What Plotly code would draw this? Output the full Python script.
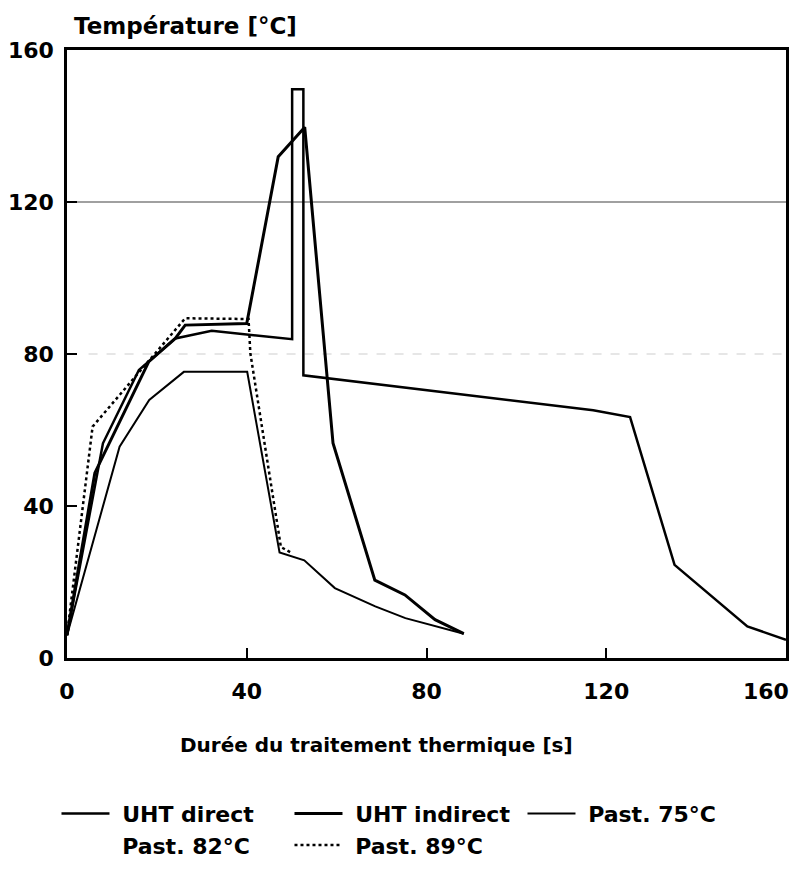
import plotly.graph_objects as go

# ---- data (time in s, temperature in °C) ----
uht_direct_x = [0, 8.0, 16.0, 24.1, 32.2, 40.8, 50.1, 50.1, 52.6, 52.6, 117.1, 125.3, 135.2, 151.4, 160]
uht_direct_y = [6, 56.5, 75.8, 84.1, 86.1, 85.0, 83.9, 149.7, 149.7, 74.4, 65.2, 63.4, 24.5, 8.3, 4.8]

uht_indirect_x = [0, 6.2, 18.2, 24.1, 26.3, 40.0, 47.0, 52.9, 59.2, 68.5, 75.2, 81.9, 88.3]
uht_indirect_y = [6, 48.7, 78.0, 84.1, 87.6, 88.0, 131.9, 139.7, 56.5, 20.5, 16.6, 10.1, 6.4]

past75_x = [0, 11.7, 18.3, 26.0, 40.1, 47.3, 52.8, 59.6, 68.6, 75.3, 88.3]
past75_y = [6, 55.6, 67.9, 75.3, 75.3, 27.8, 25.7, 18.4, 13.6, 10.5, 6.4]

past82_x = [None]   # curve not visible in the reference
past82_y = [None]

past89_x = [0, 5.7, 26.3, 40.4, 40.8, 47.6, 50.2]
past89_y = [6, 60.9, 89.4, 89.2, 80.2, 29.2, 27.5]

x_ticks = [0, 40, 80, 120, 160]
x_tick_labels = ["0", "40", "80", "120", "160"]
y_ticks = [0, 40, 80, 120, 160]
ref_line_dark = 120
ref_line_faint = 80

FONT = "DejaVu Sans"
PAD = "\u00a0"

fig = go.Figure()
fig.add_trace(go.Scatter(x=uht_direct_x, y=uht_direct_y, mode="lines", name=PAD + "UHT direct",
                         line=dict(color="black", width=2.5)))
fig.add_trace(go.Scatter(x=uht_indirect_x, y=uht_indirect_y, mode="lines", name=PAD + "UHT indirect",
                         line=dict(color="black", width=3)))
fig.add_trace(go.Scatter(x=past75_x, y=past75_y, mode="lines", name=PAD + "Past. 75°C",
                         line=dict(color="black", width=2)))
fig.add_trace(go.Scatter(x=past82_x, y=past82_y, mode="lines", name=PAD + "Past. 82°C",
                         line=dict(color="rgba(0,0,0,0)", width=2)))
fig.add_trace(go.Scatter(x=past89_x, y=past89_y, mode="lines", name=PAD + "Past. 89°C",
                         line=dict(color="black", width=2.5, dash="dot")))

fig.add_shape(type="line", xref="paper", x0=0, x1=1, yref="y", y0=ref_line_dark, y1=ref_line_dark,
              line=dict(color="#808080", width=1.5), layer="below")
fig.add_shape(type="line", xref="paper", x0=0.03, x1=1, yref="y", y0=ref_line_faint, y1=ref_line_faint,
              line=dict(color="#e6e6e6", width=2, dash="dash"), layer="below")

tick_font = dict(family=FONT, size=22, color="black", weight="bold")
axis_common = dict(showline=True, linecolor="black", linewidth=2.5, mirror=True,
                   ticks="inside", ticklen=10, tickwidth=2, tickcolor="black",
                   showgrid=False, zeroline=False, automargin=False, tickfont=tick_font)

# last x label is placed as right-anchored text so it stays inside the page
fig.update_xaxes(range=[0, 160], tickvals=x_ticks, ticktext=x_tick_labels[:-1] + [""],
                 ticklabelstandoff=12, **axis_common)
fig.update_yaxes(range=[0, 160], tickvals=y_ticks, ticktext=[str(v) for v in y_ticks],
                 ticklabelstandoff=6, **axis_common)
fig.add_annotation(text=x_tick_labels[-1], xref="x", x=x_ticks[-1], yref="paper", y=0,
                   xanchor="right", yanchor="middle", xshift=5, yshift=-33, showarrow=False,
                   font=tick_font)

fig.add_annotation(text="Température [°C]", xref="paper", yref="paper", x=0.007, y=1.04,
                   xanchor="left", yanchor="middle", showarrow=False,
                   font=dict(family=FONT, size=23, color="black", weight="bold"))
fig.add_annotation(text="Durée du traitement thermique [s]", xref="paper", yref="paper",
                   x=0.43, y=-0.143, xanchor="center", yanchor="middle", showarrow=False,
                   font=dict(family=FONT, size=20, color="black", weight="bold"))

fig.update_layout(
    width=807, height=871,
    margin=dict(l=67, r=21, t=50, b=213),
    paper_bgcolor="white", plot_bgcolor="white",
    showlegend=True,
    legend=dict(orientation="h", xref="container", x=0.07, xanchor="left",
                yref="container", y=0.09, yanchor="top",
                entrywidth=170, itemwidth=48, bgcolor="rgba(0,0,0,0)",
                font=dict(family=FONT, size=22, color="black", weight="bold")),
)

fig.write_html("out.html", config={"displayModeBar": False},
               post_script="document.body.style.margin='0';document.body.style.overflow='hidden';")
